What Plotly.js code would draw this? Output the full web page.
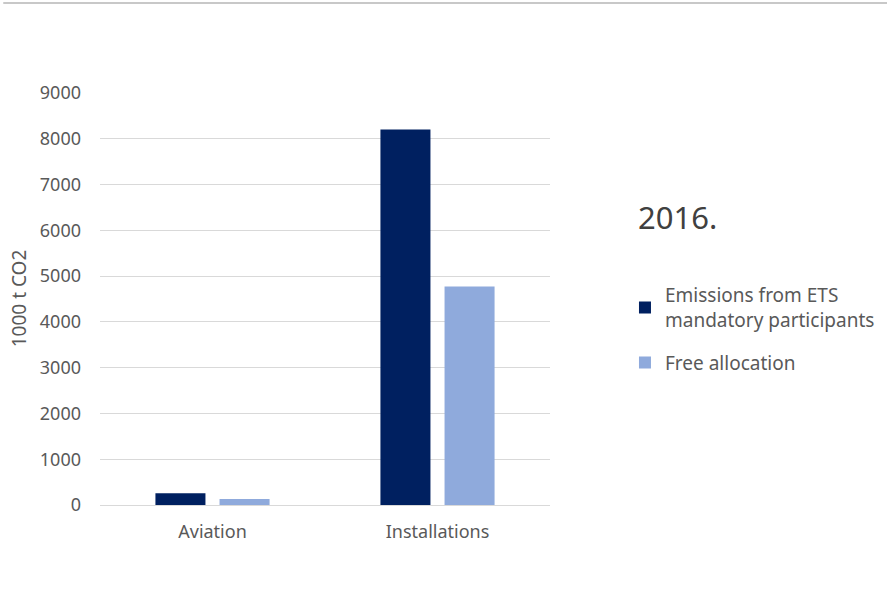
<!DOCTYPE html>
<html>
<head>
<meta charset="utf-8">
<script src="https://cdn.plot.ly/plotly-3.0.1.min.js"></script>
<style>html,body{margin:0;padding:0;background:#fff;}#chart{width:887px;height:613px;}</style>
</head>
<body>
<div id="chart"></div>
<script>
const categories = ["Aviation", "Installations"];
const emissions = [255, 8200];
const freeAllocation = [130, 4770];
const seriesNames = ["Emissions from ETS<br>mandatory participants", "Free allocation"];
const yearLabel = "2016.";
const yTitle = "1000 t CO2";

const font = "Noto Sans, Open Sans, sans-serif";
const data = [
  {type: "bar", x: categories, y: emissions, name: seriesNames[0], legendgroup: "a", marker: {color: "#002060"}},
  {type: "bar", x: categories, y: freeAllocation, name: seriesNames[1], legendgroup: "b", marker: {color: "#8faadc"}}
];
const layout = {
  width: 887, height: 613,
  margin: {l: 100, r: 337, t: 92, b: 108},
  paper_bgcolor: "#fff", plot_bgcolor: "#fff",
  barmode: "group", bargap: 0.43, bargroupgap: 0.22,
  font: {family: font, color: "#595959", size: 18},
  xaxis: {showgrid: false, zeroline: false, showline: false, ticks: "", ticklabelstandoff: 14, automargin: false,
          tickfont: {size: 18, color: "#595959"}},
  yaxis: {range: [0, 9020], tickvals: [0,1000,2000,3000,4000,5000,6000,7000,8000,9000], automargin: false,
          showgrid: true, gridcolor: "#d9d9d9", gridwidth: 1,
          zeroline: true, zerolinecolor: "#d9d9d9", zerolinewidth: 1, ticks: "", showline: false,
          ticklabelstandoff: 18, tickfont: {size: 18, color: "#595959"},
          title: {text: yTitle, font: {size: 19, color: "#595959"}, standoff: 8}},
  legend: {xref: "container", x: 0.7046, y: 0.554, xanchor: "left", yanchor: "top", font: {size: 19, color: "#595959"},
           tracegroupgap: 15, itemwidth: 30, bgcolor: "rgba(0,0,0,0)"},
  annotations: [{text: yearLabel, xref: "paper", yref: "paper", x: 1.191, y: 0.697, xanchor: "left", yanchor: "middle",
                 showarrow: false, font: {size: 31, color: "#404040"}}],
  shapes: [{type: "line", xref: "paper", yref: "paper", x0: -0.215, x1: 1.75, y0: 1.2155, y1: 1.2155,
            line: {color: "#c8c8c8", width: 2}}]
};
Plotly.newPlot("chart", data, layout, {displayModeBar: false});
</script>
</body>
</html>
